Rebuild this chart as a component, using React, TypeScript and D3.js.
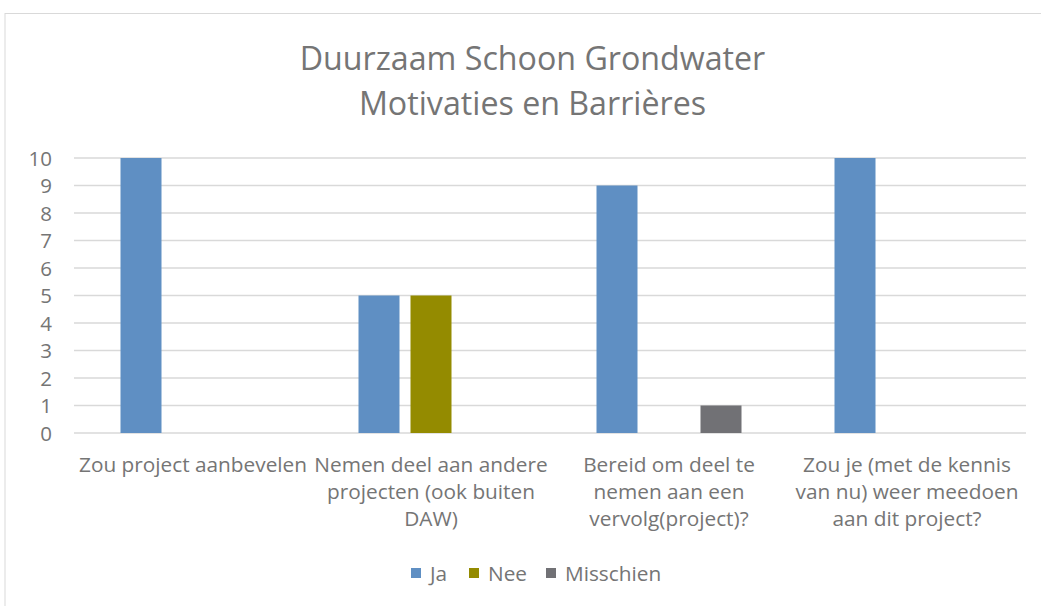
import React from "react";
import * as d3 from "d3";

const categories: string[][] = [
  ["Zou project aanbevelen"],
  ["Nemen deel aan andere", "projecten (ook buiten", "DAW)"],
  ["Bereid om deel te", "nemen aan een", "vervolg(project)?"],
  ["Zou je (met de kennis", "van nu) weer meedoen", "aan dit project?"],
];
const seriesNames = ["Ja", "Nee", "Misschien"];
const ja = [10, 5, 9, 10];
const nee = [0, 5, 0, 0];
const misschien = [0, 0, 1, 0];
const yTicks = [0, 1, 2, 3, 4, 5, 6, 7, 8, 9, 10];
const titleLines = ["Duurzaam Schoon Grondwater", "Motivaties en Barrières"];
const colors = ["#5f8fc3", "#948b00", "#717175"];

const W = 1041, H = 606;
const FONT = "'Open Sans', 'Noto Sans', sans-serif";
const TXT = "#757575";

export default function App() {
  const left = 74, right = 1026, top = 158, bottom = 433;
  const x0 = d3.scaleBand<number>().domain(d3.range(categories.length)).range([left, right]).paddingInner(0).paddingOuter(0);
  const y = d3.scaleLinear().domain([0, 10]).range([bottom, top]);
  const bw = x0.bandwidth();
  const barW = 41, gap = 11;
  const groupW = 3 * barW + 2 * gap;
  const x1 = d3.scaleBand<number>().domain([0, 1, 2]).range([(bw - groupW) / 2, (bw + groupW) / 2]).paddingInner(gap / (barW + gap));
  const values = [ja, nee, misschien];

  return (
    <svg width={W} height={H} style={{ position: "absolute", left: 0, top: 0, background: "#fff" }} fontFamily={FONT}>
      <rect x={5} y={13.5} width={1100} height={700} fill="#fff" stroke="#d9d9d9" strokeWidth={1} />
      {titleLines.map((t, i) => (
        <text key={i} x={532.5} y={69.5 + i * 45} textAnchor="middle" fontSize={32.2} fill={TXT}>{t}</text>
      ))}
      {yTicks.map((t) => (
        <g key={t}>
          <line x1={left} x2={right} y1={y(t)} y2={y(t)} stroke="#d9d9d9" strokeWidth={1.5} />
          <text x={52} y={y(t) + 7.5} textAnchor="end" fontSize={20.5} fill={TXT}>{t}</text>
        </g>
      ))}
      {categories.map((c, ci) => (
        <g key={ci} transform={`translate(${x0(ci)},0)`}>
          {values.map((vals, si) => vals[ci] > 0 ? (
            <rect key={si} x={x1(si)} y={y(vals[ci])} width={x1.bandwidth()} height={y(0) - y(vals[ci])} fill={colors[si]} />
          ) : null)}
          {c.map((line, li) => (
            <text key={li} x={bw / 2} y={471.5 + li * 27} textAnchor="middle" fontSize={20.8} fill={TXT}>{line}</text>
          ))}
        </g>
      ))}
      {seriesNames.map((s, i) => {
        const lx = [411, 469, 546][i];
        return (
          <g key={s}>
            <rect x={lx} y={568} width={10} height={10} fill={colors[i]} />
            <text x={lx + 19} y={581} fontSize={20.8} fill={TXT}>{s}</text>
          </g>
        );
      })}
    </svg>
  );
}
